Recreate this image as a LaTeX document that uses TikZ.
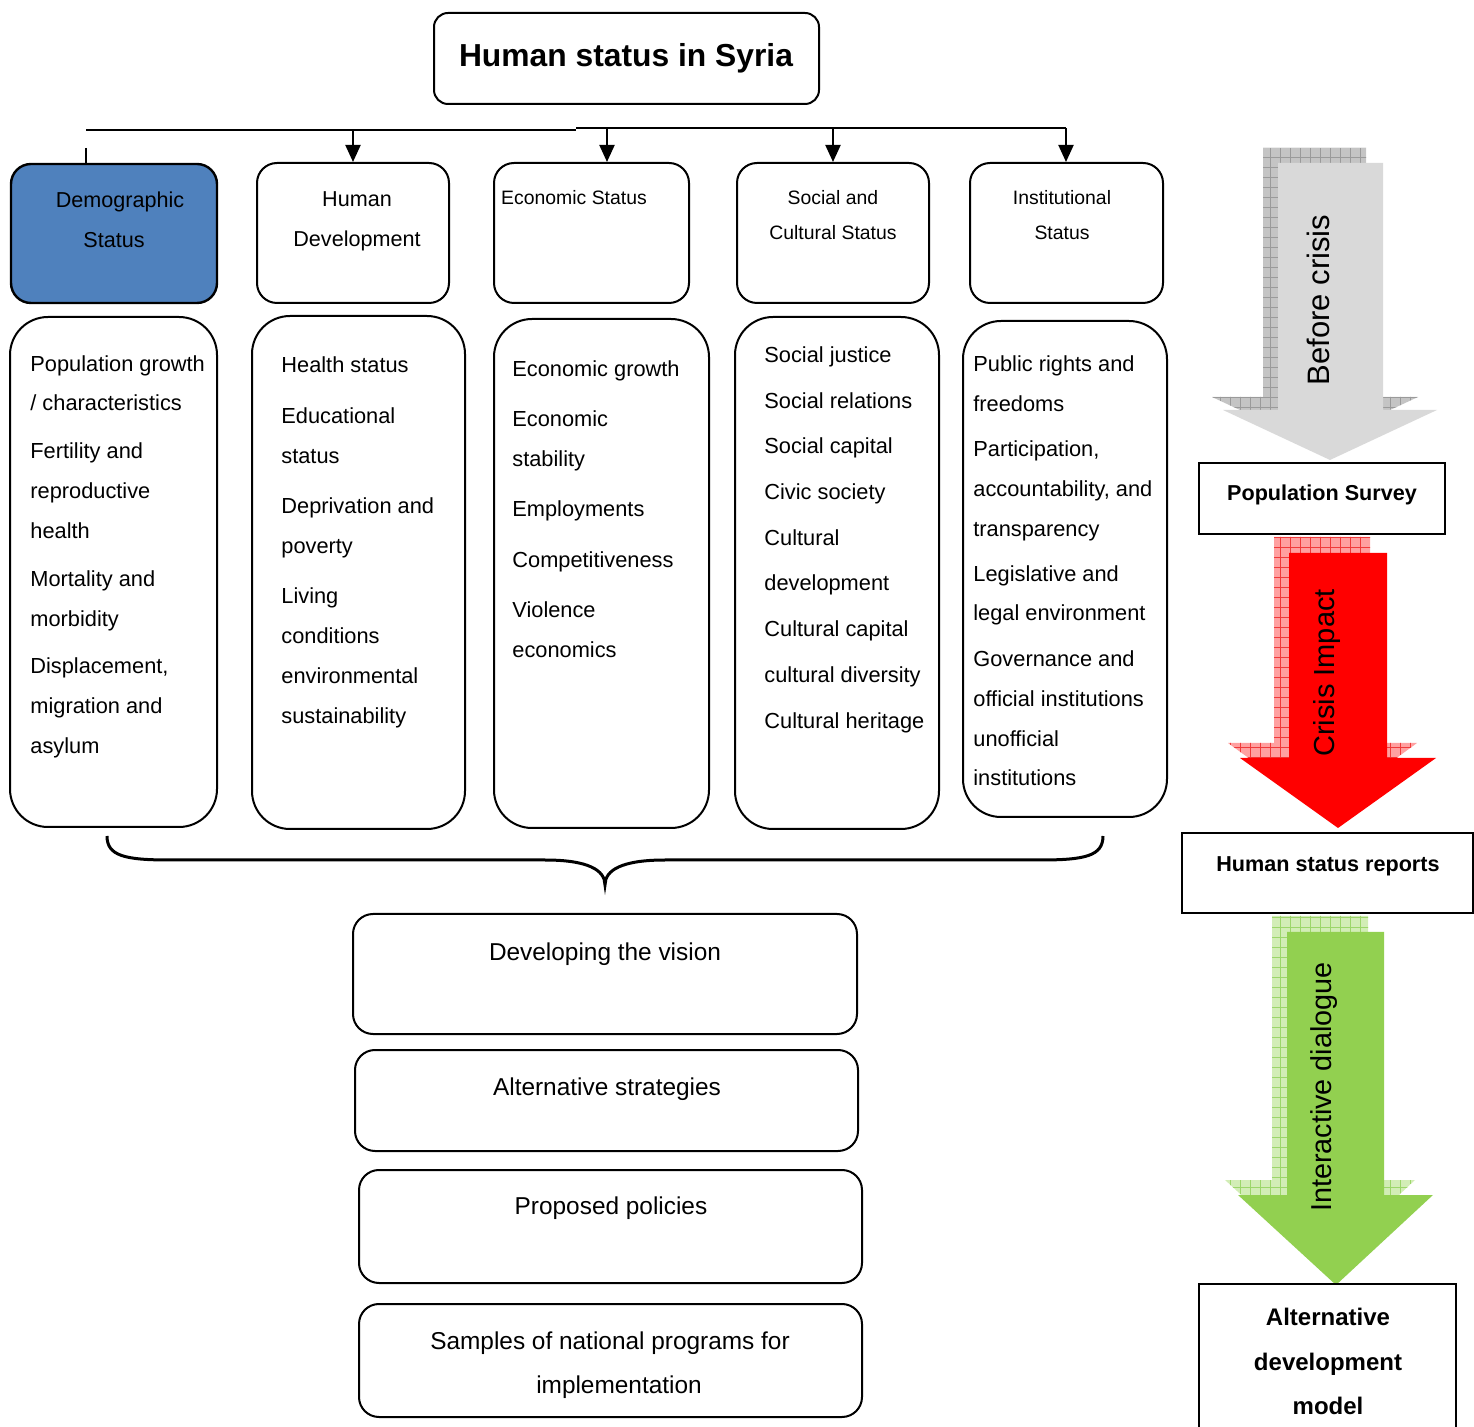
\documentclass[tikz,border=0pt]{standalone}
\usepackage{fontspec}
\setmainfont{Liberation Sans}
\usetikzlibrary{arrows.meta,fit,patterns.meta}
\definecolor{demoblue}{HTML}{4F81BD}
\definecolor{arrgray}{HTML}{D9D9D9}
\definecolor{shgray}{HTML}{C4C4C4}
\definecolor{shgrayline}{HTML}{9A9A9A}
\definecolor{arrred}{HTML}{FF0000}
\definecolor{shred}{HTML}{FFA0A0}
\definecolor{shredline}{HTML}{F03A3A}
\definecolor{arrgreen}{HTML}{92D050}
\definecolor{shgreen}{HTML}{D2EDB6}
\definecolor{shgreenline}{HTML}{9CD66A}
\begin{document}
\begin{tikzpicture}[x=0.5pt,y=-0.5pt,
  hbox/.style={draw, line width=1pt, rounded corners=10pt, inner sep=0pt},
  dbox/.style={draw, line width=1pt, rounded corners=19pt, inner sep=0pt},
  bbox/.style={draw, line width=1pt, rounded corners=10pt, inner sep=0pt},
  sbox/.style={draw, line width=1pt, inner sep=0pt},
  item/.style={anchor=base west, inner sep=0pt, font=\fontsize{10.9}{13}\selectfont},
  htxt/.style={anchor=base, inner sep=0pt, font=\fontsize{10.8}{13}\selectfont},
  stxt/.style={anchor=base, inner sep=0pt, font=\fontsize{9.7}{12}\selectfont},
  btxt/.style={anchor=base, inner sep=0pt, font=\fontsize{12.2}{14}\selectfont},
  rtxt/.style={anchor=base, inner sep=0pt, font=\bfseries\fontsize{10.8}{13}\selectfont},
  vtxt/.style={rotate=90, inner sep=0pt, font=\fontsize{15}{18}\selectfont},
  arr/.style={line width=1pt, -{Triangle[length=8.5pt,width=7.5pt]}},
  shadowpat/.style={pattern={Hatch[angle=0,distance=5pt,line width=0.4pt]}, pattern color=#1}
]
\useasboundingbox (0,0) rectangle (1474,1427);

% title
\node[draw, line width=1pt, rounded corners=7pt, inner sep=0pt, fit={(434,13) (819,104)}] (title) {};
\node[anchor=base, inner sep=0pt, font=\bfseries\fontsize{15.9}{19}\selectfont] (titlet) at (626,67) {Human status in Syria};

% header boxes
\node[hbox, line width=1.2pt, fill=demoblue, fit={(11,164) (217,303)}] (demo) {};
\node[hbox, fit={(257,163) (449,303)}] (hd) {};
\node[hbox, fit={(494,163) (689,303)}] (econ) {};
\node[hbox, fit={(737,163) (929,303)}] (soc) {};
\node[hbox, fit={(970,163) (1163,303)}] (inst) {};

\node[htxt] (demot1) at (120,208) {Demographic};
\node[htxt] (demot2) at (114,248) {Status};
\node[htxt] (hdt1) at (357,207) {Human};
\node[htxt] (hdt2) at (357,247) {Development};
\node[stxt] (econt) at (574,205) {Economic Status};
\node[stxt] (soct1) at (833,205) {Social and};
\node[stxt] (soct2) at (833,240) {Cultural Status};
\node[stxt] (instt1) at (1062,205) {Institutional};
\node[stxt] (instt2) at (1062,240) {Status};

% bus connectors
\coordinate (busA) at (86,130);
\coordinate (busB) at (576,130);
\coordinate (busC) at (576,128);
\coordinate (busD) at (1066,128);
\coordinate (tk) at (86,148);
\coordinate (t1) at (353,130);
\coordinate (t2) at (607,128);
\coordinate (t3) at (833,128);
\draw[line width=1pt] (busA) -- (busB);
\draw[line width=0.8pt] (busC) -- (busD);
\draw[line width=0.8pt] (tk) -- (tk |- demo.north);
\draw[arr] (t1) -- (t1 |- hd.north);
\draw[arr] (t2) -- (t2 |- econ.north);
\draw[arr] (t3) -- (t3 |- soc.north);
\draw[arr] (busD) -- (busD |- inst.north);

% detail boxes
\node[dbox, fit={(10,317) (217,827)}] (d1) {};
\node[dbox, fit={(252,316) (465,829)}] (d2) {};
\node[dbox, fit={(494,319) (709,828)}] (d3) {};
\node[dbox, fit={(735,317) (939,829)}] (d4) {};
\node[dbox, fit={(963,321) (1167,817)}] (d5) {};

\foreach \t/\y [count=\i] in {Population growth/363, {/ characteristics}/402, Fertility and/450, reproductive/490, health/530, Mortality and/578, morbidity/618, {Displacement,}/665, migration and/705, asylum/745}
  \node[item] (c1l\i) at (30,{\y+8.5}) {\t};
\foreach \t/\y [count=\i] in {Health status/364, Educational/415, status/455, Deprivation and/505, poverty/545, Living/595, conditions/635, environmental/675, sustainability/715}
  \node[item] (c2l\i) at (281,{\y+8.5}) {\t};
\foreach \t/\y [count=\i] in {Economic growth/368, Economic/418, stability/458, Employments/508, Competitiveness/559, Violence/609, economics/649}
  \node[item] (c3l\i) at (512,{\y+8.5}) {\t};
\foreach \t/\y [count=\i] in {Social justice/354, Social relations/400, Social capital/445, Civic society/491, Cultural/537, development/582, Cultural capital/628, cultural diversity/674, Cultural heritage/720}
  \node[item] (c4l\i) at (764,{\y+8.5}) {\t};
\foreach \t/\y [count=\i] in {Public rights and/363, freedoms/403, {Participation,}/448, {accountability, and}/488, transparency/528, Legislative and/573, legal environment/612, Governance and/658, official institutions/698, unofficial/738, institutions/777}
  \node[item] (c5l\i) at (973,{\y+8.5}) {\t};

% brace
\coordinate (braceL) at (107,836);
\coordinate (braceM) at (605,885);
\coordinate (braceR) at (1103,836);
\draw[line width=1.5pt] (braceL) .. controls (107,856) and (125,860) .. (170,860) -- (545,860)
  .. controls (588,860) and (605,870) .. (braceM)
  .. controls (605,870) and (622,860) .. (665,860) -- (1040,860)
  .. controls (1085,860) and (1103,856) .. (braceR);

% bottom boxes
\node[bbox, fit={(353,914) (857,1034)}] (v1) {};
\node[bbox, fit={(355,1050) (858,1151)}] (v2) {};
\node[bbox, fit={(359,1170) (862,1283)}] (v3) {};
\node[bbox, fit={(359,1304) (862,1417)}] (v4) {};
\node[btxt] (v1t) at (605,960) {Developing the vision};
\node[btxt] (v2t) at (607,1095) {Alternative strategies};
\node[btxt] (v3t) at (611,1214) {Proposed policies};
\node[btxt] (v4t1) at (610,1349) {Samples of national programs for};
\node[btxt] (v4t2) at (619,1393) {implementation};

% right column: arrows
\fill[shgray] (1263,148) -- (1366,148) -- (1366,397) -- (1418,397) -- (1315,445) -- (1212,397) -- (1263,397) -- cycle;
\fill[shadowpat=shgrayline] (1263,148) -- (1366,148) -- (1366,397) -- (1418,397) -- (1315,445) -- (1212,397) -- (1263,397) -- cycle;
\fill[arrgray] (1278,163) -- (1383,163) -- (1383,410) -- (1437,410) -- (1330,460) -- (1223,410) -- (1278,410) -- cycle;
\node[vtxt, font=\fontsize{15.5}{18}\selectfont] (a1t) at (1318,300) {Before crisis};

\fill[shred] (1274,537) -- (1370,537) -- (1370,743) -- (1417,743) -- (1323,812) -- (1228,743) -- (1274,743) -- cycle;
\fill[shadowpat=shredline] (1274,537) -- (1370,537) -- (1370,743) -- (1417,743) -- (1323,812) -- (1228,743) -- (1274,743) -- cycle;
\fill[arrred] (1289,553) -- (1387,553) -- (1387,758) -- (1436,758) -- (1338,828) -- (1240,758) -- (1289,758) -- cycle;
\node[vtxt, font=\fontsize{14.5}{18}\selectfont] (a2t) at (1327,673) {Crisis Impact};

\fill[shgreen] (1272,916) -- (1368,916) -- (1368,1180) -- (1415,1180) -- (1321,1268) -- (1225,1180) -- (1272,1180) -- cycle;
\fill[shadowpat=shgreenline] (1272,916) -- (1368,916) -- (1368,1180) -- (1415,1180) -- (1321,1268) -- (1225,1180) -- (1272,1180) -- cycle;
\fill[arrgreen] (1287,932) -- (1384,932) -- (1384,1195) -- (1433,1195) -- (1336,1285) -- (1238,1195) -- (1287,1195) -- cycle;
\node[vtxt, font=\fontsize{14.4}{18}\selectfont] (a3t) at (1324,1087) {Interactive dialogue};

% right column: boxes
\node[sbox, fit={(1199,463) (1445,534)}] (ps) {};
\node[rtxt] (pst) at (1322,501) {Population Survey};
\node[sbox, fit={(1182,833) (1473,913)}] (hsr) {};
\node[rtxt] (hsrt) at (1328,871) {Human status reports};
\begin{scope}
\clip (0,0) rectangle (1474,1427);
\node[sbox, fit={(1199,1284) (1456,1450)}] (adm) {};
\end{scope}
\node[rtxt, font=\bfseries\fontsize{12}{14}\selectfont] (admt1) at (1328,1325) {Alternative};
\node[rtxt, font=\bfseries\fontsize{12}{14}\selectfont] (admt2) at (1328,1370) {development};
\node[rtxt, font=\bfseries\fontsize{12}{14}\selectfont] (admt3) at (1328,1414) {model};
\end{tikzpicture}
\end{document}
